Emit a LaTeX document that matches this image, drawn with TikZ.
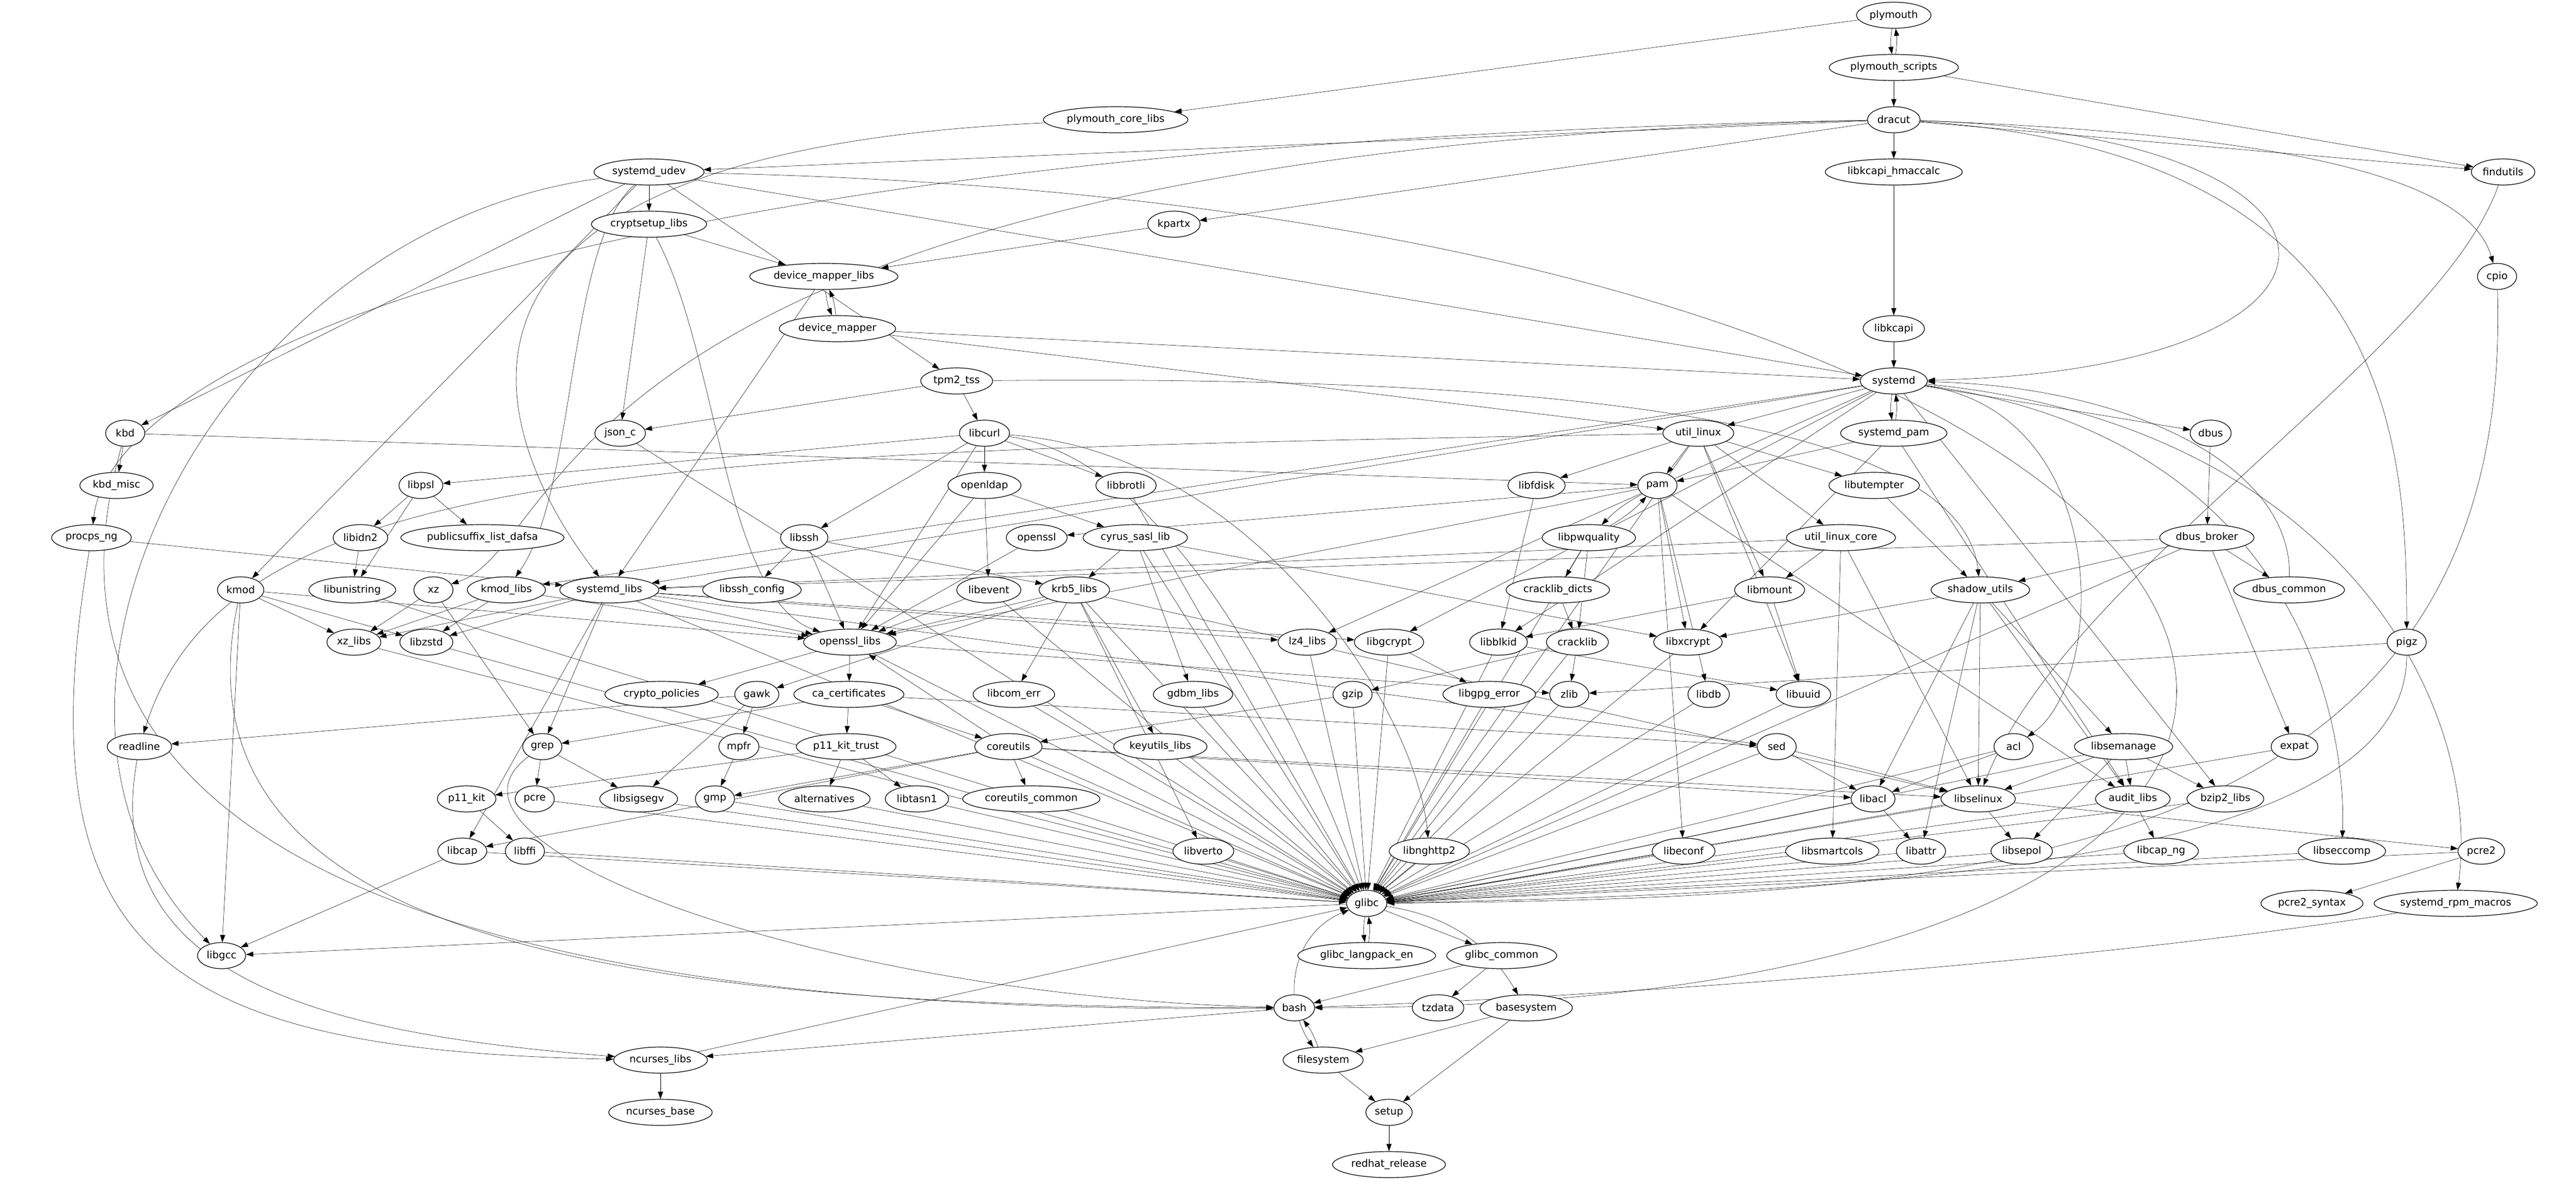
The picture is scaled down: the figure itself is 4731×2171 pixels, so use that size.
\documentclass[tikz,border=0pt]{standalone}
\usepackage{fontspec}
\setmainfont{DejaVu Sans}
\usetikzlibrary{shapes.geometric,arrows.meta,backgrounds}

\begin{document}
\begin{tikzpicture}[x=0.75pt,y=-0.75pt,line width=0.9pt,>={Triangle[length=10pt,width=7pt]},pkg/.style={ellipse,draw,fill=white,font=\fontsize{14}{16}\selectfont,minimum width=54pt,minimum height=36pt,inner xsep=3pt,inner ysep=0pt}]
\useasboundingbox (0,0) rectangle (4731,2171);

\node[pkg] (plymouth) at (3478,28) {plymouth};
\node[pkg] (plymouth_scripts) at (3478,124) {plymouth\_scripts};
\node[pkg] (plymouth_core_libs) at (2049,220) {plymouth\_core\_libs};
\node[pkg] (dracut) at (3478,220) {dracut};
\node[pkg] (systemd_udev) at (1192,316) {systemd\_udev};
\node[pkg] (libkcapi_hmaccalc) at (3478,316) {libkcapi\_hmaccalc};
\node[pkg] (findutils) at (4597,316) {findutils};
\node[pkg] (cryptsetup_libs) at (1192,412) {cryptsetup\_libs};
\node[pkg] (kpartx) at (2156,412) {kpartx};
\node[pkg] (device_mapper_libs) at (1513,508) {device\_mapper\_libs};
\node[pkg] (cpio) at (4586,508) {cpio};
\node[pkg] (device_mapper) at (1538,604) {device\_mapper};
\node[pkg] (libkcapi) at (3478,604) {libkcapi};
\node[pkg] (tpm2_tss) at (1757,700) {tpm2\_tss};
\node[pkg] (systemd) at (3478,700) {systemd};
\node[pkg] (kbd) at (230,796) {kbd};
\node[pkg] (json_c) at (1139,796) {json\_c};
\node[pkg] (libcurl) at (1808,796) {libcurl};
\node[pkg] (util_linux) at (3119,796) {util\_linux};
\node[pkg] (systemd_pam) at (3478,796) {systemd\_pam};
\node[pkg] (dbus) at (4060,796) {dbus};
\node[pkg] (kbd_misc) at (214,892) {kbd\_misc};
\node[pkg] (libpsl) at (773,892) {libpsl};
\node[pkg] (openldap) at (1808,892) {openldap};
\node[pkg] (libbrotli) at (2068,892) {libbrotli};
\node[pkg] (libfdisk) at (2822,892) {libfdisk};
\node[pkg] (pam) at (3044,892) {pam};
\node[pkg] (libutempter) at (3442,892) {libutempter};
\node[pkg] (procps_ng) at (168,988) {procps\_ng};
\node[pkg] (libidn2) at (662,988) {libidn2};
\node[pkg] (publicsuffix_list_dafsa) at (886,988) {publicsuffix\_list\_dafsa};
\node[pkg] (libssh) at (1477,988) {libssh};
\node[pkg] (openssl) at (1904,988) {openssl};
\node[pkg] (cyrus_sasl_lib) at (2085,988) {cyrus\_sasl\_lib};
\node[pkg] (libpwquality) at (2918,988) {libpwquality};
\node[pkg] (util_linux_core) at (3381,988) {util\_linux\_core};
\node[pkg] (dbus_broker) at (4053,988) {dbus\_broker};
\node[pkg] (kmod) at (442,1084) {kmod};
\node[pkg] (libunistring) at (647,1084) {libunistring};
\node[pkg] (xz) at (796,1084) {xz};
\node[pkg] (kmod_libs) at (930,1084) {kmod\_libs};
\node[pkg] (systemd_libs) at (1119,1084) {systemd\_libs};
\node[pkg] (libssh_config) at (1381,1084) {libssh\_config};
\node[pkg] (libevent) at (1816,1084) {libevent};
\node[pkg] (krb5_libs) at (1973,1084) {krb5\_libs};
\node[pkg] (cracklib_dicts) at (2861,1084) {cracklib\_dicts};
\node[pkg] (libmount) at (3250,1084) {libmount};
\node[pkg] (shadow_utils) at (3637,1084) {shadow\_utils};
\node[pkg] (dbus_common) at (4204,1084) {dbus\_common};
\node[pkg] (xz_libs) at (650,1180) {xz\_libs};
\node[pkg] (libzstd) at (783,1180) {libzstd};
\node[pkg] (openssl_libs) at (1561,1180) {openssl\_libs};
\node[pkg] (lz4_libs) at (2401,1180) {lz4\_libs};
\node[pkg] (libgcrypt) at (2551,1180) {libgcrypt};
\node[pkg] (libblkid) at (2752,1180) {libblkid};
\node[pkg] (cracklib) at (2897,1180) {cracklib};
\node[pkg] (libxcrypt) at (3100,1180) {libxcrypt};
\node[pkg] (pigz) at (4420,1180) {pigz};
\node[pkg] (crypto_policies) at (1215,1276) {crypto\_policies};
\node[pkg] (gawk) at (1390,1276) {gawk};
\node[pkg] (ca_certificates) at (1559,1276) {ca\_certificates};
\node[pkg] (libcom_err) at (1862,1276) {libcom\_err};
\node[pkg] (gdbm_libs) at (2191,1276) {gdbm\_libs};
\node[pkg] (gzip) at (2484,1276) {gzip};
\node[pkg] (libgpg_error) at (2735,1276) {libgpg\_error};
\node[pkg] (zlib) at (2882,1276) {zlib};
\node[pkg] (libdb) at (3138,1276) {libdb};
\node[pkg] (libuuid) at (3312,1276) {libuuid};
\node[pkg] (readline) at (256,1372) {readline};
\node[pkg] (grep) at (996,1372) {grep};
\node[pkg] (mpfr) at (1357,1372) {mpfr};
\node[pkg] (p11_kit_trust) at (1554,1372) {p11\_kit\_trust};
\node[pkg] (coreutils) at (1852,1372) {coreutils};
\node[pkg] (keyutils_libs) at (2131,1372) {keyutils\_libs};
\node[pkg] (sed) at (3263,1372) {sed};
\node[pkg] (acl) at (3698,1372) {acl};
\node[pkg] (libsemanage) at (3900,1372) {libsemanage};
\node[pkg] (expat) at (4214,1372) {expat};
\node[pkg] (p11_kit) at (857,1468) {p11\_kit};
\node[pkg] (pcre) at (982,1468) {pcre};
\node[pkg] (libsigsegv) at (1173,1468) {libsigsegv};
\node[pkg] (gmp) at (1313,1468) {gmp};
\node[pkg] (alternatives) at (1514,1468) {alternatives};
\node[pkg] (libtasn1) at (1684,1468) {libtasn1};
\node[pkg] (coreutils_common) at (1894,1468) {coreutils\_common};
\node[pkg] (libacl) at (3440,1468) {libacl};
\node[pkg] (libselinux) at (3633,1468) {libselinux};
\node[pkg] (audit_libs) at (3917,1468) {audit\_libs};
\node[pkg] (bzip2_libs) at (4087,1468) {bzip2\_libs};
\node[pkg] (libcap) at (849,1564) {libcap};
\node[pkg] (libffi) at (964,1564) {libffi};
\node[pkg] (libverto) at (2210,1564) {libverto};
\node[pkg] (libnghttp2) at (2625,1564) {libnghttp2};
\node[pkg] (libeconf) at (3092,1564) {libeconf};
\node[pkg] (libsmartcols) at (3365,1564) {libsmartcols};
\node[pkg] (libattr) at (3528,1564) {libattr};
\node[pkg] (libsepol) at (3713,1564) {libsepol};
\node[pkg] (libcap_ng) at (3969,1564) {libcap\_ng};
\node[pkg] (libseccomp) at (4301,1564) {libseccomp};
\node[pkg] (pcre2) at (4557,1564) {pcre2};
\node[pkg] (glibc) at (2510,1660) {glibc};
\node[pkg] (pcre2_syntax) at (4246,1660) {pcre2\_syntax};
\node[pkg] (systemd_rpm_macros) at (4510,1660) {systemd\_rpm\_macros};
\node[pkg] (libgcc) at (407,1756) {libgcc};
\node[pkg] (glibc_langpack_en) at (2510,1756) {glibc\_langpack\_en};
\node[pkg] (glibc_common) at (2758,1756) {glibc\_common};
\node[pkg] (bash) at (2377,1852) {bash};
\node[pkg] (tzdata) at (2641,1852) {tzdata};
\node[pkg] (basesystem) at (2803,1852) {basesystem};
\node[pkg] (ncurses_libs) at (1213,1948) {ncurses\_libs};
\node[pkg] (filesystem) at (2430,1948) {filesystem};
\node[pkg] (ncurses_base) at (1213,2044) {ncurses\_base};
\node[pkg] (setup) at (2551,2044) {setup};
\node[pkg] (redhat_release) at (2551,2140) {redhat\_release};

\begin{scope}[on background layer]
% straight dependencies
\path[->]
  (plymouth) edge[bend right=8] (plymouth_scripts)
  (plymouth_scripts) edge[bend right=8] (plymouth)
  (plymouth) edge (plymouth_core_libs)
  (plymouth_scripts) edge (dracut) edge (findutils)
  (dracut) edge (systemd_udev) edge (libkcapi_hmaccalc) edge (kpartx) edge (findutils)
  (libkcapi_hmaccalc) edge (libkcapi)
  (libkcapi) edge (systemd)
  (systemd_udev) edge (cryptsetup_libs) edge (tpm2_tss) edge (systemd) edge (kbd) edge (kmod)
  (cryptsetup_libs) edge (device_mapper_libs) edge (json_c)
  (kpartx) edge (device_mapper_libs)
  (device_mapper_libs) edge[bend right=8] (device_mapper) edge (systemd_libs)
  (device_mapper) edge[bend right=8] (device_mapper_libs) edge (systemd) edge (util_linux)
  (tpm2_tss) edge (json_c) edge (libcurl)
  (systemd) edge (util_linux) edge (dbus) edge (lz4_libs) edge (libgcrypt) edge (libblkid) edge (kmod_libs) edge (systemd_libs) edge (bzip2_libs)
  (systemd) edge[bend right=8] (systemd_pam)
  (systemd_pam) edge[bend right=8] (systemd) edge (pam) edge (libxcrypt) edge (audit_libs)
  (util_linux) edge (pam) edge (libfdisk) edge (libutempter) edge (util_linux_core) edge (libmount) edge (libuuid) edge (glibc)
  (dbus) edge (dbus_broker)
  (dbus_broker) edge (shadow_utils) edge (dbus_common) edge (expat) edge (systemd_libs) edge (glibc)
  (kbd) edge (kbd_misc) edge (pam)
  (json_c) edge (glibc)
  (libcurl) edge (openldap) edge (libbrotli) edge (libssh) edge (libpsl) edge (openssl_libs)
  (libpsl) edge (libidn2) edge (publicsuffix_list_dafsa) edge (libunistring)
  (libidn2) edge (libunistring)
  (libunistring) edge (glibc)
  (openldap) edge (cyrus_sasl_lib) edge (libevent) edge (openssl_libs)
  (libbrotli) edge (glibc)
  (libfdisk) edge (libblkid)
  (pam) edge[bend right=8] (libpwquality) edge (libxcrypt) edge (libdb) edge (libeconf) edge (audit_libs) edge (openssl_libs) edge (openssl)
  (libpwquality) edge[bend right=8] (pam) edge (cracklib_dicts) edge (cracklib) edge (glibc)
  (cracklib_dicts) edge (cracklib)
  (cracklib) edge (zlib) edge (gzip) edge (glibc)
  (util_linux_core) edge (libmount) edge (libsmartcols) edge (systemd_libs) edge (libselinux)
  (libmount) edge (libblkid) edge (libuuid)
  (libutempter) edge (shadow_utils)
  (libblkid) edge (libuuid) edge (glibc)
  (libuuid) edge (glibc)
  (libxcrypt) edge (glibc)
  (libdb) edge (glibc)
  (zlib) edge (glibc)
  (gzip) edge (coreutils) edge (glibc)
  (libgcrypt) edge (libgpg_error) edge (glibc)
  (libgpg_error) edge (glibc)
  (lz4_libs) edge (glibc)
  (shadow_utils) edge (libxcrypt) edge (audit_libs) edge (libselinux) edge (libsemanage) edge (libacl) edge (libattr)
  (pigz) edge (zlib)
  (acl) edge (libacl) edge (glibc)
  (libsemanage) edge (libselinux) edge (libsepol) edge (audit_libs) edge (bzip2_libs) edge (glibc)
  (expat) edge (glibc)
  (libselinux) edge (libsepol) edge (pcre2) edge (glibc)
  (audit_libs) edge (libcap_ng) edge (glibc)
  (bzip2_libs) edge (glibc)
  (libacl) edge (libattr) edge (glibc)
  (libattr) edge (glibc)
  (libsepol) edge (glibc)
  (libcap_ng) edge (glibc)
  (libseccomp) edge (glibc)
  (pcre2) edge (pcre2_syntax) edge (glibc)
  (procps_ng) edge (systemd_libs)
  (kmod) edge (libgcc) edge (xz_libs) edge (libzstd) edge (openssl_libs)
  (xz) edge (xz_libs) edge (grep)
  (kmod_libs) edge (xz_libs) edge (libzstd) edge (openssl_libs)
  (systemd_libs) edge (xz_libs) edge (libzstd) edge (openssl_libs) edge (lz4_libs) edge (libgcrypt) edge (libcap) edge (grep) edge (sed) edge (glibc)
  (openssl_libs) edge (crypto_policies) edge (ca_certificates) edge (zlib) edge (glibc)
  (ca_certificates) edge (p11_kit_trust) edge (coreutils) edge (grep) edge (sed)
  (p11_kit_trust) edge (p11_kit) edge (alternatives) edge (libtasn1)
  (p11_kit) edge (libffi)
  (coreutils) edge (openssl_libs) edge (coreutils_common) edge (gmp) edge (libacl) edge (libselinux) edge (libcap) edge (glibc)
  (gawk) edge (readline) edge (mpfr) edge (libsigsegv)
  (mpfr) edge (gmp)
  (grep) edge (pcre) edge (libsigsegv)
  (pcre) edge (glibc)
  (libsigsegv) edge (glibc)
  (gmp) edge (glibc)
  (alternatives) edge (glibc)
  (libtasn1) edge (glibc)
  (libcap) edge (libgcc) edge (glibc)
  (libffi) edge (glibc)
  (krb5_libs) edge (openssl_libs) edge (libcom_err) edge (keyutils_libs) edge (libverto) edge (gawk) edge (libselinux) edge (glibc)
  (libssh) edge (libssh_config) edge (openssl_libs) edge (krb5_libs)
  (openssl) edge (openssl_libs)
  (cyrus_sasl_lib) edge (krb5_libs) edge (gdbm_libs) edge (libxcrypt) edge (glibc)
  (libevent) edge (openssl_libs) edge (glibc)
  (libcom_err) edge (glibc)
  (keyutils_libs) edge (glibc)
  (gdbm_libs) edge (glibc)
  (libverto) edge (glibc)
  (libnghttp2) edge (glibc)
  (sed) edge (libacl) edge (libselinux) edge (glibc)
  (libeconf) edge (glibc)
  (libsmartcols) edge (glibc)
  (xz_libs) edge (glibc)
  (libzstd) edge (glibc)
  (glibc) edge (libgcc) edge (glibc_common) edge[bend left=25] (basesystem)
  (glibc) edge[bend right=8] (glibc_langpack_en)
  (glibc_langpack_en) edge[bend right=8] (glibc)
  (glibc_common) edge (bash) edge (tzdata)
  (bash) edge[bend left=35] (glibc) edge (ncurses_libs) edge[bend right=8] (filesystem)
  (filesystem) edge[bend right=8] (bash) edge (setup)
  (basesystem) edge (filesystem) edge (setup)
  (setup) edge (redhat_release)
  (ncurses_libs) edge (ncurses_base) edge (glibc);

% long routed dependencies
\draw[->] (dracut) .. controls (4400,250) and (4400,680) .. (systemd);
\draw[->] (dracut) .. controls (4390,280) and (4420,800) .. (pigz);
\draw[->] (dracut) .. controls (4300,250) and (4540,350) .. (cpio);
\draw[->] (dracut) .. controls (900,270) and (200,700) .. (procps_ng);
\draw[->] (dracut) .. controls (1000,280) and (1050,1000) .. (xz);
\draw[->] (plymouth_core_libs) .. controls (700,280) and (900,800) .. (systemd_libs);
\draw[->] (systemd_udev) .. controls (400,420) and (-50,1300) .. (libgcc);
\draw[->] (systemd_udev) .. controls (4400,380) and (4900,1850) .. (bash);
\draw[->] (systemd_udev) .. controls (1040,450) and (1060,900) .. (kmod_libs);
\draw[->] (cryptsetup_libs) .. controls (1320,650) and (1330,1100) .. (openssl_libs);
\draw[->] (findutils) .. controls (4480,650) and (3800,1050) .. (libselinux);
\draw[->] (cpio) .. controls (4620,1600) and (3600,1650) .. (glibc);
\draw[->] (pigz) .. controls (4420,1580) and (3500,1640) .. (glibc);
\draw[->] (systemd) .. controls (4300,780) and (4560,1300) .. (systemd_rpm_macros);
\draw[->] (systemd_rpm_macros) .. controls (3900,1760) and (3000,1830) .. (bash);
\draw[->] (systemd) .. controls (3880,760) and (3870,1250) .. (acl);
\draw[->] (systemd) .. controls (4200,800) and (4310,1300) .. (libseccomp);
\draw[->] (dbus_common) .. controls (4210,850) and (3900,710) .. (systemd);
\draw[->] (procps_ng) .. controls (40,1750) and (300,1930) .. (ncurses_libs);
\draw[->] (kbd) .. controls (30,1500) and (700,1870) .. (bash);
\draw[->] (kmod) .. controls (300,1750) and (1200,1850) .. (bash);
\draw[->] (grep) .. controls (750,1550) and (1500,1830) .. (bash);
\draw[->] (readline) .. controls (180,1800) and (600,1900) .. (ncurses_libs);
\draw[->] (util_linux) .. controls (1200,830) and (420,850) .. (readline);
\draw[->] (tpm2_tss) .. controls (2800,690) and (3600,760) .. (shadow_utils);
\draw[->] (libcurl) .. controls (2300,830) and (2600,1300) .. (libnghttp2);
\draw[->] (libcurl) .. controls (2200,850) and (2450,1500) .. (glibc);
\end{scope}
\end{tikzpicture}
\end{document}
